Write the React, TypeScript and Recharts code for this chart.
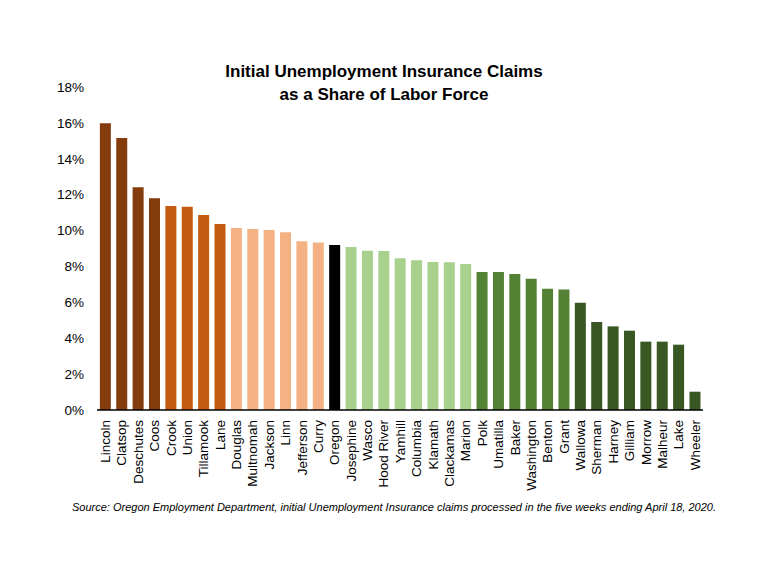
import React from "react";
import { BarChart, Bar, XAxis, YAxis, Cell } from "recharts";

const counties = [
  "Lincoln", "Clatsop", "Deschutes", "Coos", "Crook", "Union", "Tillamook", "Lane",
  "Douglas", "Multnomah", "Jackson", "Linn", "Jefferson", "Curry", "Oregon",
  "Josephine", "Wasco", "Hood River", "Yamhill", "Columbia", "Klamath", "Clackamas",
  "Marion", "Polk", "Umatilla", "Baker", "Washington", "Benton", "Grant", "Wallowa",
  "Sherman", "Harney", "Gilliam", "Morrow", "Malheur", "Lake", "Wheeler",
];

const shares = [
  15.98, 15.16, 12.41, 11.8, 11.37, 11.32, 10.87, 10.37,
  10.14, 10.09, 10.03, 9.9, 9.4, 9.33, 9.2,
  9.09, 8.88, 8.86, 8.45, 8.34, 8.25, 8.23,
  8.14, 7.69, 7.69, 7.58, 7.32, 6.76, 6.71, 5.98,
  4.9, 4.66, 4.42, 3.81, 3.81, 3.64, 1.02,
];

// group of each county (0..6): used to pick the bar colour
const groups = [
  0, 0, 0, 0, 1, 1, 1, 1,
  2, 2, 2, 2, 2, 2, 3,
  4, 4, 4, 4, 4, 4, 4,
  4, 5, 5, 5, 5, 5, 5, 6,
  6, 6, 6, 6, 6, 6, 6,
];

const yTicks = [0, 2, 4, 6, 8, 10, 12, 14, 16, 18];

const palette = ["#843C0C", "#C55A11", "#F4B183", "#000000", "#A9D18E", "#548235", "#385723"];

const data = counties.map((name, i) => ({ name, value: shares[i], group: groups[i] }));

const FONT = "'Liberation Sans', Arial, sans-serif";

const XTick = (props: any) => {
  const { x, y, payload } = props;
  return (
    <g transform={`translate(${x},${y})`}>
      <text
        transform="rotate(-90)"
        x={-8}
        y={0}
        dy="0.36em"
        textAnchor="end"
        fill="#000"
        fontSize={13.5}
        fontFamily={FONT}
      >
        {payload.value}
      </text>
    </g>
  );
};

export default function App() {
  return (
    <div style={{ position: "absolute", left: 0, top: 0, width: 768, height: 576, background: "#fff" }}>
      <BarChart
        width={768}
        height={576}
        data={data}
        margin={{ top: 87, right: 65, bottom: 0, left: 0 }}
        barCategoryGap="17.5%"
      >
        <YAxis
          width={97}
          domain={[0, 18]}
          ticks={yTicks}
          interval={0}
          tickFormatter={(v: number) => `${v}%`}
          axisLine={false}
          tickLine={false}
          tickMargin={7}
          tick={{ fill: "#000", fontSize: 13.5, fontFamily: FONT }}
        />
        <XAxis
          dataKey="name"
          interval={0}
          tickLine={false}
          tickSize={0}
          axisLine={{ stroke: "#000", strokeWidth: 1.5 }}
          tick={<XTick />}
          height={166}
        />
        <Bar dataKey="value" isAnimationActive={false}>
          {data.map((d, i) => (
            <Cell key={i} fill={palette[d.group]} />
          ))}
        </Bar>
      </BarChart>
      <div
        style={{
          position: "absolute",
          left: 0,
          top: 60,
          width: 768,
          textAlign: "center",
          fontFamily: FONT,
          fontWeight: "bold",
          fontSize: 17,
          lineHeight: "23px",
          color: "#000",
        }}
      >
        Initial Unemployment Insurance Claims
        <br />
        as a Share of Labor Force
      </div>
      <div
        style={{
          position: "absolute",
          left: 20,
          top: 501,
          width: 748,
          textAlign: "center",
          fontFamily: FONT,
          fontStyle: "italic",
          fontSize: 11,
          color: "#000",
          whiteSpace: "nowrap",
        }}
      >
        Source: Oregon Employment Department, initial Unemployment Insurance claims processed in the five weeks ending April 18, 2020.
      </div>
    </div>
  );
}
